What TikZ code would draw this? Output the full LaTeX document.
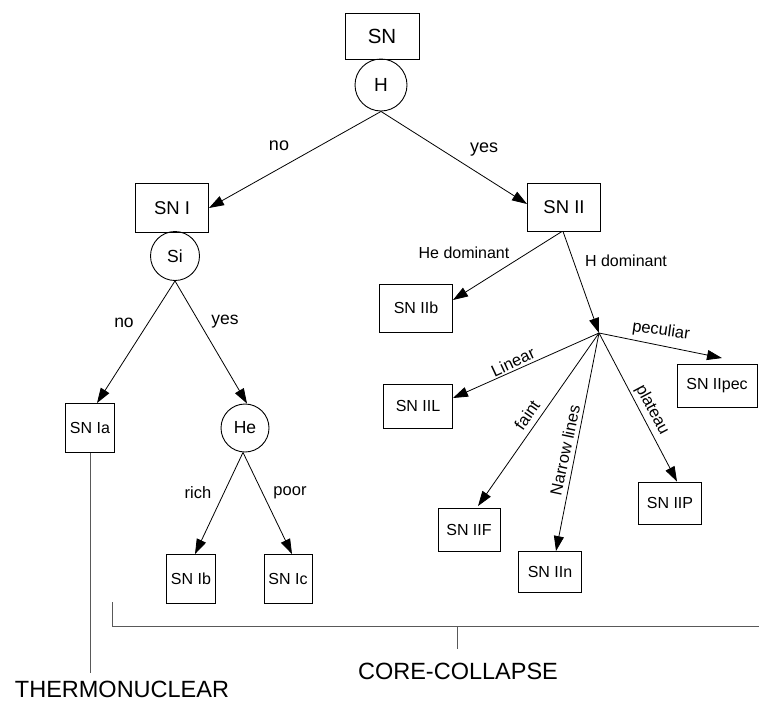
\documentclass[tikz,border=0pt]{standalone}
\usepackage{fontspec}
\setmainfont{Liberation Sans}
\usetikzlibrary{arrows.meta,positioning}
\begin{document}
\begin{tikzpicture}[x=1pt,y=-1pt,
  box/.style={draw,line width=0.9pt,inner sep=0pt,font=\fontsize{16}{19}\selectfont},
  disc/.style={draw,circle,line width=0.9pt,inner sep=0pt,font=\fontsize{17.5}{20}\selectfont},
  arr/.style={line width=0.8pt,-{Triangle[length=15pt,width=10pt]}},
  lab/.style={font=\fontsize{16.5}{19}\selectfont,inner sep=1pt},
  big/.style={font=\fontsize{23.5}{28}\selectfont,inner sep=0pt,anchor=base},
  grayline/.style={line width=0.9pt,draw=black!65}]
\useasboundingbox (0,0) rectangle (759,702);
% top
\node[box,minimum width=74pt,minimum height=46pt,font=\fontsize{20.5}{24}\selectfont] (sn) at (382,36) {SN};
\node[disc,minimum size=52pt,font=\fontsize{19}{22}\selectfont] (h) at (381,85) {H};
% type I branch
\node[box,minimum width=73pt,minimum height=49pt,font=\fontsize{18.5}{22}\selectfont] (sn1) at (172,208) {SN I};
\node[disc,minimum size=49pt] (si) at (175,256) {Si};
\node[box,minimum width=49pt,minimum height=49pt] (sna) at (90,428) {SN Ia};
\node[disc,minimum size=48pt] (he) at (245,428) {He};
\node[box,minimum width=49pt,minimum height=49pt] (snb) at (191,579) {SN Ib};
\node[box,minimum width=48pt,minimum height=49pt] (snc) at (288,579) {SN Ic};
% type II branch
\node[box,minimum width=73pt,minimum height=48pt,font=\fontsize{18.5}{22}\selectfont] (sn2) at (564,207) {SN II};
\node[box,minimum width=73pt,minimum height=48pt] (iib) at (416,308) {SN IIb};
\coordinate (hub) at (599,333);
\node[box,minimum width=80pt,minimum height=43pt] (pec) at (717,386) {SN IIpec};
\node[box,minimum width=69pt,minimum height=44pt] (iil) at (418,406) {SN IIL};
\node[box,minimum width=62pt,minimum height=43pt] (iif) at (469,530) {SN IIF};
\node[box,minimum width=63pt,minimum height=41pt] (iin) at (550,572) {SN IIn};
\node[box,minimum width=63pt,minimum height=42pt] (iip) at (670,503) {SN IIP};
% connectors
\draw[arr] (h.south) -- (sn1.east);
\draw[arr] (h.south) -- ([yshift=3pt]sn2.west);
\draw[arr] (si.south) -- ([xshift=7pt]sna.north);
\draw[arr] (si.south) -- ([xshift=2pt]he.north);
\draw[arr] ([xshift=-2pt]he.south) -- ([xshift=4pt]snb.north);
\draw[arr] ([xshift=-2pt]he.south) -- ([xshift=4pt]snc.north);
\draw[arr] ([xshift=-2pt]sn2.south) -- ([yshift=8pt]iib.east);
\draw[arr] ([xshift=-1pt]sn2.south) -- (hub);
\draw[arr] (hub) -- ([xshift=5pt,yshift=6pt]pec.north);
\draw[arr] (hub) -- ([yshift=8pt]iil.east);
\draw[arr] (hub) -- ([xshift=9pt,yshift=2pt]iif.north);
\draw[arr] (hub) -- ([xshift=6pt]iin.north);
\draw[arr] (hub) -- ([xshift=7pt]iip.north);
% labels
\node[lab,font=\fontsize{18}{21}\selectfont] (lno1) at (279,146) {no};
\node[lab,font=\fontsize{18}{21}\selectfont] (lyes1) at (484,150) {yes};
\node[lab,font=\fontsize{17.5}{21}\selectfont] (lno2) at (124,323) {no};
\node[lab,font=\fontsize{17.5}{21}\selectfont] (lyes2) at (225,322) {yes};
\node[lab] (lrich) at (198,493) {rich};
\node[lab] (lpoor) at (290,493) {poor};
\node[lab,font=\fontsize{16}{19}\selectfont] (lhed) at (464,253) {He dominant};
\node[lab,font=\fontsize{16}{19}\selectfont] (lhd) at (626,261) {H dominant};
\node[lab,rotate=-8] (lpec) at (661,331) {peculiar};
\node[lab,rotate=25] (llin) at (513,362) {Linear};
\node[lab,rotate=55] (lfaint) at (527,415) {faint};
\node[lab,rotate=78] (lnar) at (565,450) {Narrow lines};
\node[lab,rotate=-62] (lplat) at (652,410) {plateau};
% groups
\node[big] (thermo) at (122,697) {THERMONUCLEAR};
\node[big] (cc) at (458,679) {CORE-COLLAPSE};
\coordinate (tb) at (88,673);
\draw[grayline] (sna.south) -- (sna.south |- tb);
\coordinate (bl) at (112,602);
\coordinate (bc) at (112,626);
\coordinate (br) at (759,626);
\coordinate (tk) at (457,626);
\coordinate (tkb) at (457,649);
\draw[grayline] (bl) -- (bc) -- (br);
\draw[grayline] (tk) -- (tkb);
\end{tikzpicture}
\end{document}
